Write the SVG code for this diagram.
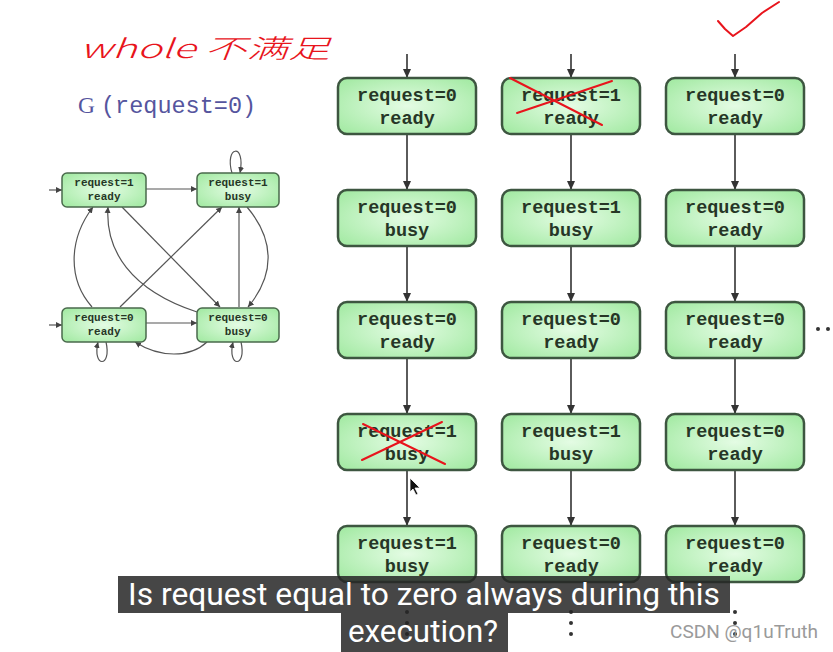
<svg xmlns="http://www.w3.org/2000/svg" width="833" height="652" viewBox="0 0 833 652">
<defs>
<radialGradient id="gf" cx="50%" cy="50%" r="65%">
<stop offset="0" stop-color="#e4fce4"/>
<stop offset="1" stop-color="#a4eaa4"/>
</radialGradient>
<marker id="ah" markerWidth="10" markerHeight="10" refX="9" refY="5" orient="auto" markerUnits="userSpaceOnUse">
<path d="M0,1 L9,5 L0,9 z" fill="#333"/>
</marker>
<marker id="as" markerWidth="7" markerHeight="7" refX="6" refY="3.5" orient="auto" markerUnits="userSpaceOnUse">
<path d="M0,0.5 L6,3.5 L0,6.5 z" fill="#444"/>
</marker>
</defs>
<style>
.bx{fill:url(#gf);stroke:#3d5640;stroke-width:2.5}
.sbx{fill:url(#gf);stroke:#4a6a4c;stroke-width:1.5}
.t{font-family:"Liberation Mono",monospace;font-weight:bold;font-size:18.5px;fill:#263626;text-anchor:middle}
.st{font-family:"Liberation Mono",monospace;font-weight:bold;font-size:11px;fill:#263626;text-anchor:middle}
.ar{stroke:#333;stroke-width:1.6;fill:none;marker-end:url(#ah)}
.sa{stroke:#555;stroke-width:1.2;fill:none;marker-end:url(#as)}
.red{stroke:#e8141c;stroke-width:2;fill:none;stroke-linecap:round;stroke-linejoin:round}
.dot{fill:#333}
</style>
<rect width="833" height="652" fill="#ffffff"/>

<!-- handwritten annotation -->
<text x="80" y="58" font-family="Noto Sans CJK SC, sans-serif" font-size="26" font-style="italic" font-weight="300" fill="#e8141c" textLength="250" lengthAdjust="spacingAndGlyphs">whole 不满足</text>

<!-- title -->
<text x="78" y="113" fill="#55559e" font-size="23.5"><tspan font-family="Liberation Serif, serif">G</tspan><tspan font-family="Liberation Mono, monospace" x="101">(request=0)</tspan></text>

<!-- connectors -->
<g id="connectors">
<!-- main grid -->
<line class="ar" x1="407" y1="54" x2="407" y2="78"/>
<line class="ar" x1="571" y1="54" x2="571" y2="78"/>
<line class="ar" x1="735" y1="54" x2="735" y2="78"/>
<line class="ar" x1="407" y1="134" x2="407" y2="190"/>
<line class="ar" x1="407" y1="246" x2="407" y2="302"/>
<line class="ar" x1="407" y1="358" x2="407" y2="414"/>
<line class="ar" x1="407" y1="470" x2="407" y2="526"/>
<line class="ar" x1="571" y1="134" x2="571" y2="190"/>
<line class="ar" x1="571" y1="246" x2="571" y2="302"/>
<line class="ar" x1="571" y1="358" x2="571" y2="414"/>
<line class="ar" x1="571" y1="470" x2="571" y2="526"/>
<line class="ar" x1="735" y1="134" x2="735" y2="190"/>
<line class="ar" x1="735" y1="246" x2="735" y2="302"/>
<line class="ar" x1="735" y1="358" x2="735" y2="414"/>
<line class="ar" x1="735" y1="470" x2="735" y2="526"/>
<!-- small graph -->
<line class="sa" x1="49" y1="190" x2="62" y2="190"/>
<line class="sa" x1="49" y1="325" x2="62" y2="325"/>
<line class="sa" x1="146" y1="189" x2="197" y2="189"/>
<line class="sa" x1="146" y1="323" x2="197" y2="323"/>
<path class="sa" d="M232,173 C224,146 246,142 240,173"/>
<path class="sa" d="M106,342 C112,368 92,368 98,342"/>
<path class="sa" d="M241,342 C247,368 227,368 233,342"/>
<line class="sa" x1="239" y1="307" x2="239" y2="207"/>
<path class="sa" d="M207,342 C190,358 160,358 135,342"/>
<path class="sa" d="M247,207 C275,240 275,275 248,307"/>
<path class="sa" d="M92,307 C68,280 68,240 93,207"/>
<line class="sa" x1="122" y1="207" x2="220" y2="307"/>
<line class="sa" x1="120" y1="307" x2="222" y2="207"/>
<path class="sa" d="M197,312 C130,290 105,250 108,207"/>
</g>

<!-- small graph nodes -->
<g id="g-r1-ready"><rect class="sbx" x="62" y="173" width="84" height="34" rx="5"/><text class="st" x="104" y="186">request=1</text><text class="st" x="104" y="200">ready</text></g>
<g id="g-r1-busy"><rect class="sbx" x="197" y="173" width="82" height="34" rx="5"/><text class="st" x="238" y="186">request=1</text><text class="st" x="238" y="200">busy</text></g>
<g id="g-r0-ready"><rect class="sbx" x="62" y="308" width="84" height="34" rx="5"/><text class="st" x="104" y="321">request=0</text><text class="st" x="104" y="335">ready</text></g>
<g id="g-r0-busy"><rect class="sbx" x="197" y="308" width="82" height="34" rx="5"/><text class="st" x="238" y="321">request=0</text><text class="st" x="238" y="335">busy</text></g>

<!-- main grid nodes -->
<g id="n11"><rect class="bx" x="338" y="78" width="138" height="56" rx="9"/><text class="t" x="407" y="101">request=0</text><text class="t" x="407" y="124">ready</text></g>
<g id="n21"><rect class="bx" x="338" y="190" width="138" height="56" rx="9"/><text class="t" x="407" y="213">request=0</text><text class="t" x="407" y="236">busy</text></g>
<g id="n31"><rect class="bx" x="338" y="302" width="138" height="56" rx="9"/><text class="t" x="407" y="325">request=0</text><text class="t" x="407" y="348">ready</text></g>
<g id="n41"><rect class="bx" x="338" y="414" width="138" height="56" rx="9"/><text class="t" x="407" y="437">request=1</text><text class="t" x="407" y="460">busy</text></g>
<g id="n51"><rect class="bx" x="338" y="526" width="138" height="56" rx="9"/><text class="t" x="407" y="549">request=1</text><text class="t" x="407" y="572">busy</text></g>

<g id="n12"><rect class="bx" x="502" y="78" width="138" height="56" rx="9"/><text class="t" x="571" y="101">request=1</text><text class="t" x="571" y="124">ready</text></g>
<g id="n22"><rect class="bx" x="502" y="190" width="138" height="56" rx="9"/><text class="t" x="571" y="213">request=1</text><text class="t" x="571" y="236">busy</text></g>
<g id="n32"><rect class="bx" x="502" y="302" width="138" height="56" rx="9"/><text class="t" x="571" y="325">request=0</text><text class="t" x="571" y="348">ready</text></g>
<g id="n42"><rect class="bx" x="502" y="414" width="138" height="56" rx="9"/><text class="t" x="571" y="437">request=1</text><text class="t" x="571" y="460">busy</text></g>
<g id="n52"><rect class="bx" x="502" y="526" width="138" height="56" rx="9"/><text class="t" x="571" y="549">request=0</text><text class="t" x="571" y="572">ready</text></g>

<g id="n13"><rect class="bx" x="666" y="78" width="138" height="56" rx="9"/><text class="t" x="735" y="101">request=0</text><text class="t" x="735" y="124">ready</text></g>
<g id="n23"><rect class="bx" x="666" y="190" width="138" height="56" rx="9"/><text class="t" x="735" y="213">request=0</text><text class="t" x="735" y="236">ready</text></g>
<g id="n33"><rect class="bx" x="666" y="302" width="138" height="56" rx="9"/><text class="t" x="735" y="325">request=0</text><text class="t" x="735" y="348">ready</text></g>
<g id="n43"><rect class="bx" x="666" y="414" width="138" height="56" rx="9"/><text class="t" x="735" y="437">request=0</text><text class="t" x="735" y="460">ready</text></g>
<g id="n53"><rect class="bx" x="666" y="526" width="138" height="56" rx="9"/><text class="t" x="735" y="549">request=0</text><text class="t" x="735" y="572">ready</text></g>

<!-- continuation dots -->
<circle class="dot" cx="818" cy="329" r="2"/>
<circle class="dot" cx="828" cy="329" r="2"/>
<circle class="dot" cx="407" cy="612" r="2"/><circle class="dot" cx="407" cy="623" r="2"/><circle class="dot" cx="407" cy="634" r="2"/>
<circle class="dot" cx="571" cy="612" r="2"/><circle class="dot" cx="571" cy="623" r="2"/><circle class="dot" cx="571" cy="634" r="2"/>
<circle class="dot" cx="735" cy="612" r="2"/><circle class="dot" cx="735" cy="623" r="2"/><circle class="dot" cx="735" cy="634" r="2"/>

<!-- red annotations -->
<path class="red" d="M718,21 L725,29 L733,36 L746,27 L762,13 L779,2"/>
<line class="red" x1="510" y1="78" x2="602" y2="125"/>
<line class="red" x1="517" y1="113" x2="612" y2="81"/>
<line class="red" x1="363" y1="424" x2="445" y2="464"/>
<line class="red" x1="362" y1="460" x2="442" y2="422"/>

<!-- mouse cursor -->
<polygon points="410,478 410,492 413,489 416,495 418,494 415,488 420,488" fill="#111" stroke="#fff" stroke-width="0.8"/>

<!-- subtitle -->
<rect x="118" y="576" width="612" height="37" fill="#262626" fill-opacity="0.85"/>
<rect x="341" y="613" width="167" height="39" fill="#262626" fill-opacity="0.85"/>
<text x="128" y="605" font-family="Roboto, sans-serif" font-size="31" fill="#ffffff" textLength="592" lengthAdjust="spacingAndGlyphs">Is request equal to zero always during this</text>
<text x="348" y="642" font-family="Roboto, sans-serif" font-size="31" fill="#ffffff" textLength="150" lengthAdjust="spacingAndGlyphs">execution?</text>

<text x="670" y="638" font-family="Roboto, sans-serif" font-size="18" fill="#9a9a9a" textLength="148" lengthAdjust="spacingAndGlyphs">CSDN @q1uTruth</text>
</svg>
